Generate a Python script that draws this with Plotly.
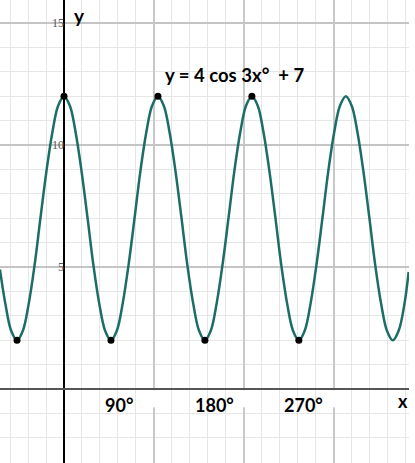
import plotly.graph_objects as go

# curve samples (x in grid units, 1 unit = one minor cell)
curve_x = [-3.56, -3.26, -2.94, -2.61, -2.28, -1.96, -1.63, -1.31, -0.98,
           -0.65, -0.33, 0.0, 0.33, 0.65, 0.98, 1.31, 1.63, 1.96, 2.28,
           2.61, 2.94, 3.26, 3.59, 3.92, 4.24, 4.57, 4.89, 5.22, 5.55,
           5.87, 6.20, 6.53, 6.85, 7.18, 7.50, 7.83, 8.16, 8.48, 8.81,
           9.14, 9.46, 9.79, 10.11, 10.44, 10.77, 11.09, 11.42, 11.75, 12.07,
           12.40, 12.72, 13.05, 13.38, 13.70, 14.03, 14.36, 14.68, 15.01, 15.33,
           15.66, 15.99, 16.31, 16.64, 16.97, 17.29, 17.62, 17.94, 18.27, 18.60,
           18.92, 19.15]
curve_y = [4.9, 3.5, 2.4, 2.0, 2.4, 3.5, 5.1, 7.0, 8.9,
           10.5, 11.6, 12.0, 11.6, 10.5, 8.9, 7.0, 5.1, 3.5, 2.4,
           2.0, 2.4, 3.5, 5.1, 7.0, 8.9, 10.5, 11.6, 12.0, 11.6,
           10.5, 8.9, 7.0, 5.1, 3.5, 2.4, 2.0, 2.4, 3.5, 5.1,
           7.0, 8.9, 10.5, 11.6, 12.0, 11.6, 10.5, 8.9, 7.0, 5.1,
           3.5, 2.4, 2.0, 2.4, 3.5, 5.1, 7.0, 8.9, 10.5, 11.6,
           12.0, 11.6, 10.5, 8.9, 7.0, 5.1, 3.5, 2.4, 2.0, 2.4,
           3.5, 4.8]

peak_x = [0.0, 5.22, 10.44]
peak_y = [12, 12, 12]
trough_x = [-2.61, 2.61, 7.83, 13.05]
trough_y = [2, 2, 2, 2]

x_labels = ["90°", "180°", "270°"]
x_label_pos = [3.05, 8.35, 13.3]
y_ticks = [5, 10, 15]

TEAL = "#1b6e66"
BOLD = "Lato"

fig = go.Figure()
fig.add_trace(go.Scatter(
    x=curve_x, y=curve_y, mode="lines",
    line=dict(color=TEAL, width=2.5, shape="spline", smoothing=1.0),
    hoverinfo="skip", cliponaxis=False,
))
fig.add_trace(go.Scatter(
    x=peak_x + trough_x, y=peak_y + trough_y, mode="markers",
    marker=dict(color="black", size=7),
    hoverinfo="skip",
))

for label, xp in zip(x_labels, x_label_pos):
    fig.add_annotation(x=xp, y=-0.66, text=f"<b>{label}</b>", showarrow=False,
                       font=dict(family=BOLD, size=18, color="black"))
fig.add_annotation(x=18.85, y=-0.5, text="<b>x</b>", showarrow=False,
                   font=dict(family=BOLD, size=18, color="black"))
fig.add_annotation(x=0.85, y=15.3, text="<b>y</b>", showarrow=False,
                   font=dict(family=BOLD, size=19, color="black"))
fig.add_annotation(x=9.5, y=12.85, text="<b>y = 4 cos 3x°\u00a0\u00a0+ 7</b>",
                   showarrow=False, font=dict(family=BOLD, size=18.5, color="black"))

# small gaps in the major grid just under the x axis
for xv in [5, 10, 15]:
    fig.add_shape(type="rect", x0=xv - 0.12, x1=xv + 0.12, y0=-0.05, y1=-0.75,
                  fillcolor="white", line_width=0, layer="between")

fig.update_layout(
    width=415, height=463,
    margin=dict(l=0, r=0, t=0, b=0),
    plot_bgcolor="white", paper_bgcolor="white",
    showlegend=False,
    xaxis=dict(
        domain=[0, 409 / 415],
        range=[-3.556, 19.17], showticklabels=False, ticks="",
        tickmode="array", tickvals=[5, 10, 15],
        showgrid=True, gridcolor="#c9c9c9", gridwidth=1.5,
        minor=dict(tickmode="linear", tick0=0, dtick=1, showgrid=True,
                   gridcolor="#e6e6e6", gridwidth=1),
        zeroline=True, zerolinecolor="black", zerolinewidth=1.5,
        showline=False, fixedrange=True,
    ),
    yaxis=dict(
        range=[-3.03, 15.94],
        tickmode="array", tickvals=y_ticks, ticks="",
        tickfont=dict(family="Liberation Serif", size=12, color="#555555"),
        anchor="free", position=64 / 415,
        showgrid=True, gridcolor="#c4c4c4", gridwidth=1.5,
        minor=dict(tickmode="linear", tick0=0, dtick=1, showgrid=True,
                   gridcolor="#e6e6e6", gridwidth=1),
        zeroline=True, zerolinecolor="#555555", zerolinewidth=2,
        showline=False, fixedrange=True,
    ),
)

fig.write_html("out.html", config={"displayModeBar": False},
               post_script="document.body.style.margin='0';")
